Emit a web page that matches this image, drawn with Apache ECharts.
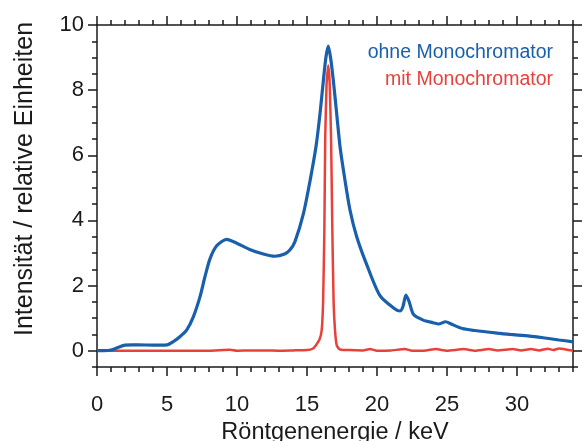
<!DOCTYPE html>
<html>
<head>
<meta charset="utf-8">
<script src="https://cdn.jsdelivr.net/npm/echarts@6/dist/echarts.min.js"></script>
<style>html,body{margin:0;padding:0;background:#fff}#c{width:587px;height:441px}</style>
</head>
<body>
<div id="c"></div>
<script>
const xTickLabels = [0, 5, 10, 15, 20, 25, 30];
const yTickLabels = [0, 2, 4, 6, 8, 10];
const seriesNames = ['ohne Monochromator', 'mit Monochromator'];
const xAxisTitle = 'Röntgenenergie / keV';
const yAxisTitle = 'Intensität / relative Einheiten';

const blueX = [0, 0.5, 1, 1.5, 2, 2.5, 3, 4, 5, 5.45, 5.9, 6.4, 6.88, 7.36, 7.71, 8.07, 8.55, 9.26, 9.98, 10.9, 11.88, 12.7, 13.4, 13.79, 14.14, 14.74, 15.21, 15.64, 15.93, 16.17, 16.35, 16.52, 16.7, 16.88, 17.12, 17.36, 17.71, 18.07, 18.55, 19.26, 20.2, 21.16, 21.64, 21.85, 22.07, 22.3, 22.6, 23.3, 24.0, 24.4, 24.9, 25.3, 26.1, 27.0, 28.6, 29.5, 30.9, 32.0, 33.0, 33.9, 34.0];
const blueY = [0, 0, 0.02, 0.1, 0.17, 0.18, 0.18, 0.17, 0.18, 0.28, 0.42, 0.63, 1.04, 1.66, 2.27, 2.82, 3.22, 3.42, 3.3, 3.11, 2.97, 2.9, 2.97, 3.1, 3.35, 4.2, 5.2, 6.26, 7.28, 8.3, 9.0, 9.35, 8.95, 8.3, 7.28, 6.26, 5.24, 4.32, 3.5, 2.65, 1.7, 1.32, 1.22, 1.35, 1.71, 1.5, 1.12, 0.94, 0.86, 0.82, 0.89, 0.82, 0.68, 0.62, 0.54, 0.5, 0.45, 0.39, 0.33, 0.28, 0.27];

const redX = [0, 2, 4, 6, 8, 9.5, 10, 11, 12, 13, 14, 15, 15.4, 15.64, 15.9, 16.05, 16.15, 16.24, 16.3, 16.4, 16.52, 16.62, 16.72, 16.81, 16.9, 17.0, 17.12, 17.3, 17.6, 18, 19, 19.5, 20, 21, 22, 22.5, 23.5, 24.2, 25, 26.2, 27, 28, 28.6, 29.7, 30.3, 31, 31.6, 32.2, 32.6, 33.0, 33.5, 34];
const redY = [0, 0, 0, 0, 0, 0.03, 0, 0.01, 0.01, 0, 0.01, 0.02, 0.06, 0.17, 0.35, 0.63, 1.5, 3.7, 6.5, 8.2, 8.76, 8.2, 6.5, 3.7, 1.5, 0.63, 0.17, 0.05, 0.02, 0.02, 0.01, 0.05, 0.0, 0.01, 0.05, 0.0, 0.01, 0.05, 0.0, 0.05, 0.0, 0.05, 0.01, 0.05, 0.01, 0.05, 0.01, 0.06, 0.02, 0.07, 0.04, 0.0];

const blue = '#1a5fab';
const red = '#e8413a';
const ink = '#1a1a1a';
const font = 'Liberation Sans';

function pairs(xs, ys) { return xs.map((x, i) => [x, ys[i]]); }

const axLine = { show: true, onZero: false, lineStyle: { color: ink, width: 1.5 } };
const noLine = { show: false, onZero: false };
const tickStyle = { color: ink, width: 1.5 };

const xAxes = [
  { type: 'value', position: 'bottom', min: 0, max: 34, interval: 1,
    axisLine: axLine, axisTick: { show: true, inside: false, length: 5, lineStyle: tickStyle },
    axisLabel: { show: false }, splitLine: { show: false } },
  { type: 'value', position: 'bottom', min: 0, max: 34,
    axisLine: noLine,
    axisTick: { show: true, inside: false, length: 9, lineStyle: tickStyle, customValues: xTickLabels },
    axisLabel: { show: true, customValues: xTickLabels, margin: 27, fontFamily: font, fontSize: 22, color: ink },
    name: xAxisTitle, nameLocation: 'middle', nameGap: 49,
    nameTextStyle: { fontFamily: font, fontSize: 23.5, color: ink },
    splitLine: { show: false } },
  { type: 'value', position: 'top', min: 0, max: 34, interval: 1,
    axisLine: axLine, axisTick: { show: true, inside: false, length: 5, lineStyle: tickStyle },
    axisLabel: { show: false }, splitLine: { show: false } },
  { type: 'value', position: 'top', min: 0, max: 34,
    axisLine: noLine,
    axisTick: { show: true, inside: false, length: 9, lineStyle: tickStyle, customValues: xTickLabels },
    axisLabel: { show: false }, splitLine: { show: false } }
];

const yAxes = [
  { type: 'value', position: 'left', min: -0.5, max: 10, interval: 0.5,
    axisLine: axLine, axisTick: { show: true, inside: false, length: 5, lineStyle: tickStyle },
    axisLabel: { show: false }, splitLine: { show: false } },
  { type: 'value', position: 'left', min: -0.5, max: 10,
    axisLine: noLine,
    axisTick: { show: true, inside: false, length: 9, lineStyle: tickStyle, customValues: yTickLabels },
    axisLabel: { show: true, customValues: yTickLabels, margin: 13, fontFamily: font, fontSize: 22, color: ink },
    splitLine: { show: false } },
  { type: 'value', position: 'right', min: -0.5, max: 10, interval: 0.5,
    axisLine: axLine, axisTick: { show: true, inside: false, length: 5, lineStyle: tickStyle },
    axisLabel: { show: false }, splitLine: { show: false } },
  { type: 'value', position: 'right', min: -0.5, max: 10,
    axisLine: noLine,
    axisTick: { show: true, inside: false, length: 9, lineStyle: tickStyle, customValues: yTickLabels },
    axisLabel: { show: false }, splitLine: { show: false } }
];

const chart = echarts.init(document.getElementById('c'), null, { renderer: 'canvas' });
chart.setOption({
  animation: false,
  backgroundColor: '#ffffff',
  grid: { left: 97, right: 14, top: 25, bottom: 74, containLabel: false, outerBoundsMode: 'none' },
  xAxis: xAxes,
  yAxis: yAxes,
  graphic: [
    { type: 'text', x: 25, y: 179, rotation: Math.PI / 2,
      style: { text: yAxisTitle, fill: ink, font: '25px "Liberation Sans"', textAlign: 'center', textVerticalAlign: 'middle' } },
    { type: 'text', x: 553, y: 53, style: { text: seriesNames[0], fill: blue, font: '19.5px "Liberation Sans"', textAlign: 'right', textVerticalAlign: 'middle' } },
    { type: 'text', x: 553, y: 80, style: { text: seriesNames[1], fill: red, font: '19.5px "Liberation Sans"', textAlign: 'right', textVerticalAlign: 'middle' } }
  ],
  series: [
    { name: seriesNames[1], type: 'line', xAxisIndex: 0, yAxisIndex: 0, data: pairs(redX, redY),
      showSymbol: false, smooth: 0.15, lineStyle: { color: red, width: 2.5 }, z: 2 },
    { name: seriesNames[0], type: 'line', xAxisIndex: 0, yAxisIndex: 0, data: pairs(blueX, blueY),
      showSymbol: false, smooth: 0.25, lineStyle: { color: blue, width: 3.2 }, z: 3 }
  ]
});
</script>
</body>
</html>
